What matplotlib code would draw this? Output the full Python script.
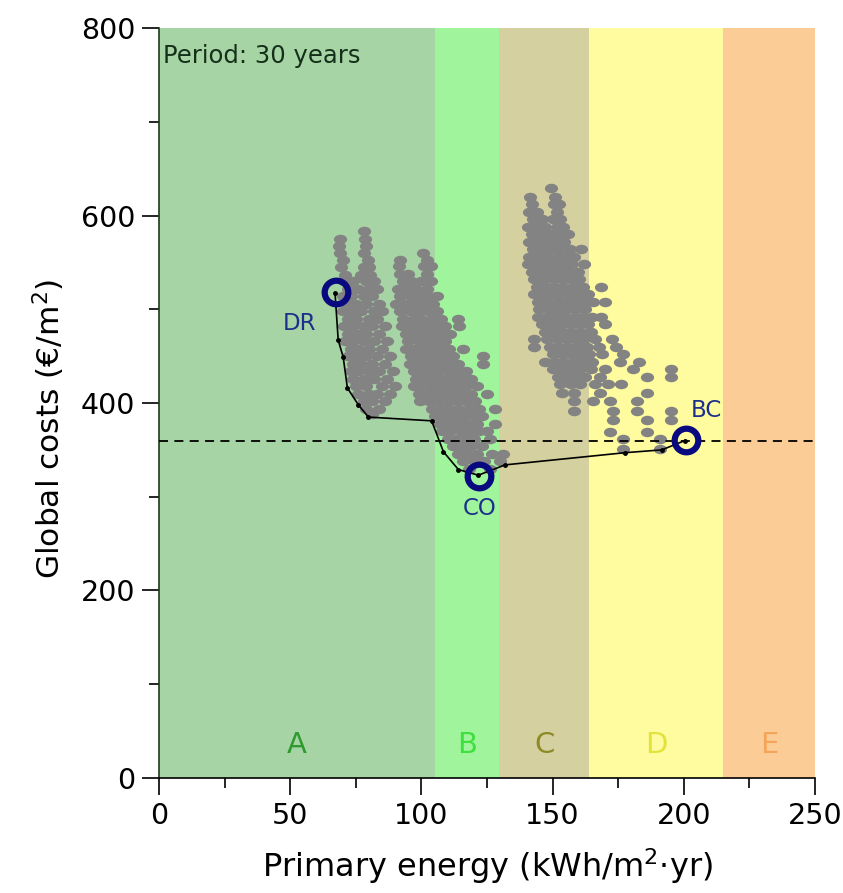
import matplotlib
matplotlib.use('Agg')
import matplotlib.pyplot as plt
import numpy as np
from matplotlib.path import Path
from matplotlib.transforms import Affine2D

plt.rcParams['font.family'] = ['DejaVu Sans']
plt.rcParams['mathtext.fontset'] = 'dejavusans'

# energy classes (upper limits of each band)
classes = ['A', 'B', 'C', 'D', 'E']
class_edges = [0, 105, 129.5, 164, 215, 250]
class_colors = ['#a6d4a4', '#a0f59c', '#d5d0a0', '#fefc9f', '#fccc97']
class_text_colors = ['#2f9a2f', '#3ee03e', '#8c8a25', '#e2e23a', '#f5a55a']

# simulated configurations, read by rows (y = global cost, x values per row)
rows_a = {
    583: [78], 575: [69, 78.5], 568: [68.5, 79], 560: [69, 78], 553: [70, 79.5],
    545: [69.5, 78, 80], 537: [71, 77, 80.5], 530: [70.5, 74, 79, 82],
    522: [72, 76, 80, 83], 514: [70, 73, 78, 81], 506: [71.5, 75, 79, 84],
    498: [70, 73, 77, 82, 85], 490: [72, 75, 80, 83], 482: [70.5, 74, 78, 81, 86],
    474: [72, 76, 79, 84], 466: [71, 74, 78, 82, 87], 458: [73, 76, 80, 85],
    450: [72, 75, 79, 83, 88], 442: [74, 77, 81, 86], 434: [73, 76, 80, 84, 89],
    426: [74, 78, 82, 87], 418: [75, 79, 85, 90], 410: [76, 80, 83, 88],
    402: [78, 81, 86], 394: [79, 84], 388: [81],
}
rows_b = {
    560: [100.5], 553: [92, 102], 546: [91.5, 101, 103.5], 538: [92, 95, 102],
    530: [93, 96, 100, 103.5], 522: [91, 94.5, 98, 102], 514: [92, 96, 99.5, 103, 106],
    506: [90.5, 94, 97, 101, 104.5], 498: [92, 95.5, 99, 102.5, 106],
    490: [93, 97, 100, 104, 107.5, 114], 482: [92.5, 96, 99, 102, 105.5, 109, 114.5],
    474: [94, 97.5, 101, 104, 107.5, 111], 466: [95, 99, 102, 105.5, 109],
    458: [94, 97, 100.5, 104, 107, 110.5, 116], 450: [96, 99, 102.5, 106, 109, 112, 123.5],
    442: [95.5, 98.5, 101, 104.5, 108, 111, 114, 123.5],
    434: [97, 100, 103, 106.5, 110, 113, 117], 426: [98, 101.5, 105, 108, 111.5, 115, 119],
    418: [97, 100, 103.5, 107, 110, 113.5, 117, 121],
    410: [99, 102, 105.5, 109, 112, 115.5, 119, 125],
    402: [99.5, 103, 106.5, 110, 113.5, 117, 120.5],
    394: [104, 108, 111, 114.5, 118, 122, 128], 386: [105, 109, 112.5, 116, 119.5, 123],
    378: [107, 110.5, 114, 117.5, 121, 128], 370: [108, 111, 115, 118.5, 122, 125],
    362: [110, 113, 116.5, 120, 126], 354: [112, 116, 119, 123],
    346: [114, 117.5, 121, 127, 131], 338: [116, 120, 124, 130], 330: [118, 126],
}
rows_c = {
    629: [149.5], 620: [141.5, 151], 612: [142, 150.5, 152.5], 604: [141, 144, 151.5],
    596: [142.5, 146, 150, 153], 588: [140.5, 144, 147, 151.5, 154],
    580: [142, 145.5, 149, 153, 156], 572: [141, 144, 147.5, 151, 154.5],
    564: [142.5, 146, 149.5, 153, 156.5, 161], 556: [141, 144.5, 148, 151.5, 155, 158],
    548: [140.5, 143.5, 147, 150.5, 154, 157.5, 162],
    540: [142, 145.5, 149, 152.5, 156, 159.5], 532: [143, 146.5, 150, 153.5, 157, 160],
    524: [144, 147.5, 151, 154.5, 158, 161.5, 168.5],
    516: [143, 146, 149.5, 153, 156.5, 160, 163.5],
    508: [144.5, 148, 151.5, 155, 158.5, 162, 165.5, 170],
    500: [145, 148.5, 152, 155.5, 159, 162.5],
    492: [144.5, 147.5, 151, 154.5, 158, 161.5, 165, 168.5],
    484: [146, 149.5, 153, 156.5, 160, 163.5, 170],
    476: [147, 150.5, 154, 157.5, 161, 164.5],
    468: [143, 148, 151.5, 155, 158.5, 162, 166, 172.5],
    460: [143, 149, 152.5, 156, 159.5, 163, 167.5, 174],
    452: [150, 153.5, 157, 160.5, 164, 169, 177],
    444: [147, 151, 154.5, 158, 161.5, 165, 175.5, 183],
    436: [150, 153.5, 157, 160.5, 164.5, 170, 180.5, 195],
    428: [152, 155.5, 159, 162.5, 168, 186, 195],
    420: [153, 157, 160.5, 166, 171, 176],
    411: [153.5, 158, 168, 186],
    402: [158, 165.5, 172, 182],
    392: [158, 173, 182, 195], 382: [173, 186, 195],
    369: [172, 186], 362: [177, 191], 351: [177, 191],
}

# Pareto front
front_x = [67.1, 68.3, 70.2, 71.8, 76.0, 79.8, 103.9, 108.4, 114.1, 121.7, 131.9, 177.6, 191.6, 200.5]
front_y = [517, 467, 449, 416, 398, 385, 381, 348, 329, 323, 334, 347, 350, 360]

# highlighted solutions
sol_names = ['DR', 'CO', 'BC']
sol_x = [67.3, 122.0, 201.0]
sol_y = [518, 322, 361]
label_x = [53.5, 122.0, 208.5]
label_y = [485, 288, 392]

ref_cost = 360


def unpack(rows):
    xs, ys = [], []
    for y, xl in rows.items():
        for x in xl:
            xs.append(x)
            ys.append(y)
    return xs, ys


ell = Path.unit_circle().transformed(Affine2D().scale(1.0, 0.72))

fig = plt.figure(figsize=(8.43, 8.93), dpi=100)
ax = fig.add_axes([0.1886, 0.1288, 0.7782, 0.8398])

for i, c in enumerate(classes):
    ax.axvspan(class_edges[i], class_edges[i + 1], color=class_colors[i], lw=0, zorder=0)
    ax.text((class_edges[i] + class_edges[i + 1]) / 2, 35, c, color=class_text_colors[i],
            fontsize=21, ha='center', va='center', zorder=1)

for rows in (rows_a, rows_b, rows_c):
    xs, ys = unpack(rows)
    ax.plot(xs, ys, ls='none', marker=ell, ms=9.5, color='#838383', mec='none', zorder=2)

ax.axhline(ref_cost, color='black', lw=1.3, ls=(0, (5, 3.5)), zorder=3)
ax.plot(front_x, front_y, color='black', lw=1.2, marker='o', ms=2.5, zorder=4)
ax.plot(sol_x, sol_y, ls='none', marker='o', ms=17, mfc='none', mec='#0a0a80', mew=4.5, zorder=5)
for n, lx, ly in zip(sol_names, label_x, label_y):
    ax.text(lx, ly, n, color='#1c2f8c', fontsize=16.5, ha='center', va='center', zorder=6)

ax.text(1.5, 783, 'Period: 30 years', fontsize=17.5, color='#15301a', ha='left', va='top')

ax.set_xlim(0, 250)
ax.set_ylim(0, 800)
ax.set_xticks([0, 50, 100, 150, 200, 250])
ax.set_xticks(np.arange(25, 250, 50), minor=True)
ax.set_yticks([0, 200, 400, 600, 800])
ax.set_yticks([100, 300, 500, 700], minor=True)
ax.tick_params(which='major', length=12, width=1.2, labelsize=20.5, direction='out', pad=5)
ax.tick_params(which='minor', length=7, width=1.2, direction='out')
for s in ['top', 'right']:
    ax.spines[s].set_visible(False)
ax.spines['left'].set_linewidth(1.2)
ax.spines['bottom'].set_linewidth(1.2)
ax.spines['left'].set_color('#1e3a1e')

ax.set_xlabel('Primary energy (kWh/m$^2$·yr)', fontsize=23, labelpad=12)
ax.set_ylabel('Global costs (€/m$^2$)', fontsize=22.5)
ax.yaxis.set_label_coords(-0.14, 0.465)

fig.savefig('out.png', dpi=100)
